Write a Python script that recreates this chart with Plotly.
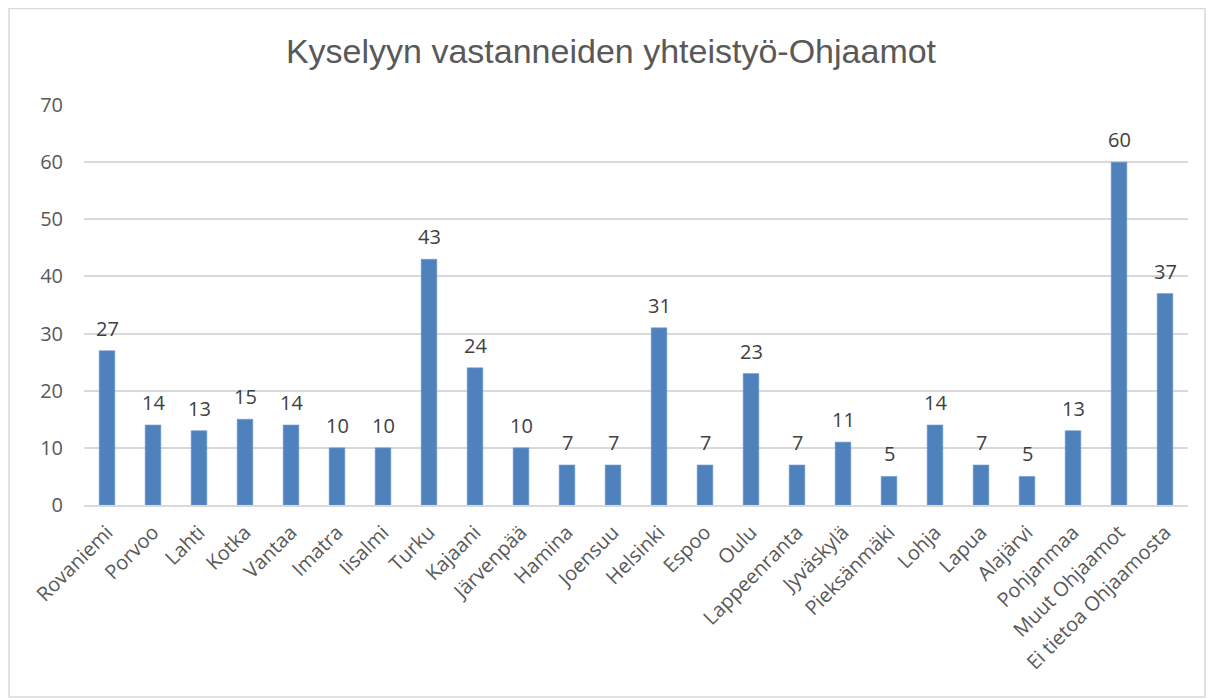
import plotly.graph_objects as go

# Ohjaamot ja vastaajien määrät
kaupungit = ["Rovaniemi", "Porvoo", "Lahti", "Kotka", "Vantaa", "Imatra", "Iisalmi",
             "Turku", "Kajaani", "Järvenpää", "Hamina", "Joensuu", "Helsinki", "Espoo",
             "Oulu", "Lappeenranta", "Jyväskylä", "Pieksänmäki", "Lohja", "Lapua",
             "Alajärvi", "Pohjanmaa", "Muut Ohjaamot", "Ei tietoa Ohjaamosta"]
maarat = [27, 14, 13, 15, 14, 10, 10, 43, 24, 10, 7, 7, 31, 7, 23, 7, 11, 5, 14, 7, 5, 13, 60, 37]
y_ticks = [0, 10, 20, 30, 40, 50, 60, 70]

# sivun oletusmarginaali 8px huomioitu
W, H = 1206, 690
L, R, T, B = 76, 26, 97, 193

fig = go.Figure(
    data=[
        go.Bar(
            x=kaupungit,
            y=maarat,
            marker=dict(color="#4F81BD", line=dict(color="#6f9bd1", width=0.6)),
            width=0.34,
            cliponaxis=False,
        )
    ],
    layout=go.Layout(
        width=W,
        height=H,
        margin=dict(l=L, r=R, t=T, b=B),
        paper_bgcolor="white",
        plot_bgcolor="white",
        showlegend=False,
        title=dict(
            text="Kyselyyn vastanneiden yhteistyö-Ohjaamot",
            x=0.5,
            xanchor="center",
            y=1 - 43 / H,
            yanchor="middle",
            font=dict(size=34, color="#595959", family="Liberation Sans Narrow, Liberation Sans"),
        ),
        xaxis=dict(
            tickangle=-45,
            tickfont=dict(size=20, color="#595959", family="Open Sans"),
            showgrid=False,
            showline=True,
            linecolor="#d9d9d9",
            linewidth=1.5,
            ticks="",
            ticklabelstandoff=6,
        ),
        yaxis=dict(
            range=[0, 70],
            tickvals=y_ticks,
            tickfont=dict(size=20, color="#595959", family="Open Sans"),
            showgrid=True,
            gridcolor="#d9d9d9",
            gridwidth=1.5,
            zeroline=False,
            ticks="",
            ticklabelstandoff=20,
        ),
    ),
)

# arvot pylväiden yläpuolelle
for k, v in zip(kaupungit, maarat):
    fig.add_annotation(
        x=k, y=v, text=str(v), showarrow=False,
        yanchor="bottom", yshift=7,
        font=dict(size=20, color="#404040", family="Open Sans"),
    )

# kaavion reunus
pw, ph = W - L - R, H - T - B
fig.add_shape(
    type="rect",
    xref="paper", yref="paper",
    x0=(1 - L) / pw, x1=(1197 - L) / pw,
    y0=(H - B - 689) / ph, y1=(H - B - 0.5) / ph,
    line=dict(color="#d9d9d9", width=1.5),
    fillcolor="rgba(0,0,0,0)",
    layer="below",
)

fig.write_html("out.html")
